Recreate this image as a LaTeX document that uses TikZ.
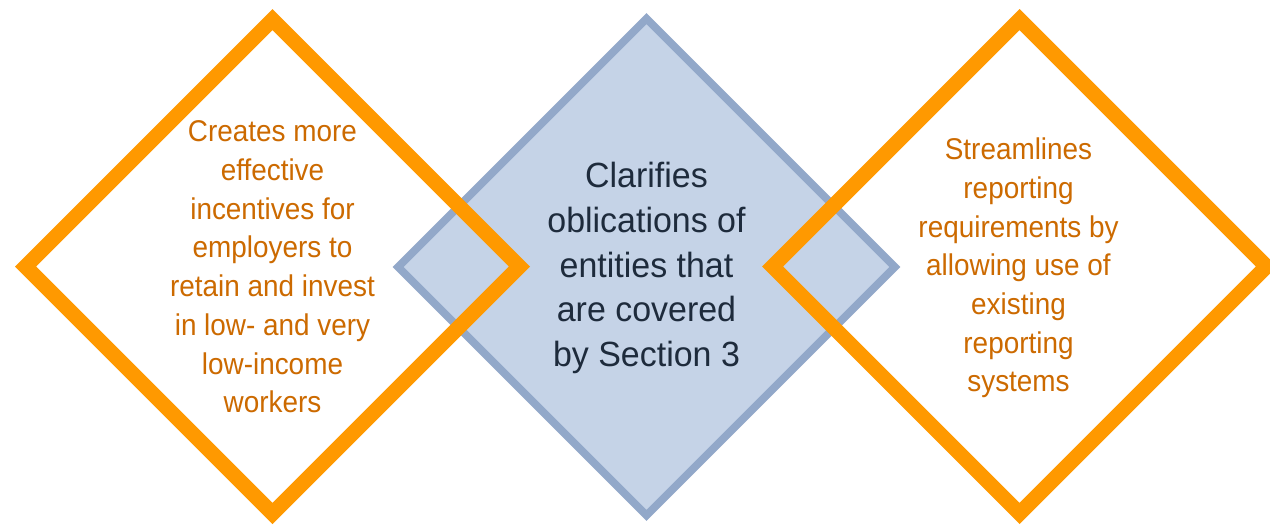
\documentclass[tikz,border=0pt]{standalone}
\usepackage{fontspec}
\setmainfont{Liberation Sans}[FakeStretch=0.93]
\newfontfamily\midfont{Liberation Sans}[FakeStretch=0.97]
\usetikzlibrary{shapes.geometric}
\definecolor{orangeline}{HTML}{FF9900}
\definecolor{orangetext}{HTML}{CC6A00}
\definecolor{bluefill}{HTML}{C5D3E7}
\definecolor{blueline}{HTML}{92A8C9}
\definecolor{darktext}{HTML}{1E2B3C}
\tikzset{
  dia/.style={diamond, minimum width=500pt, minimum height=500pt, inner sep=0pt, line join=miter},
  sidedia/.style={dia, draw=orangeline, line width=15pt},
  middia/.style={dia, draw=blueline, fill=bluefill, line width=7.8pt},
  sidetext/.style={align=center, text=orangetext, font=\fontsize{30}{38.7}\selectfont, inner sep=0pt},
  midtext/.style={align=center, text=darktext, font=\midfont\fontsize{35}{44.8}\selectfont, inner sep=0pt}
}
\begin{document}
\begin{tikzpicture}[x=1pt,y=-1pt]
\useasboundingbox (0,0) rectangle (1270,528);
\clip (0,0) rectangle (1270,528);
\fill[white] (0,0) rectangle (1270,528);
\node[middia] (mid) at (646.5,267) {};
\node[sidedia] (left) at (272.5,266.5) {};
\node[sidedia] (right) at (1019.5,266.5) {};
\node[sidetext] (lefttxt) at (272.5,267) {Creates more\\effective\\incentives for\\employers to\\retain and invest\\in low- and very\\low-income\\workers};
\node[midtext] (midtxt) at (646.5,268) {Clarifies\\oblications of\\entities that\\are covered\\by Section 3};
\node[sidetext] (righttxt) at (1018.5,268) {Streamlines\\reporting\\requirements by\\allowing use of\\existing\\reporting\\systems};
\end{tikzpicture}
\end{document}
